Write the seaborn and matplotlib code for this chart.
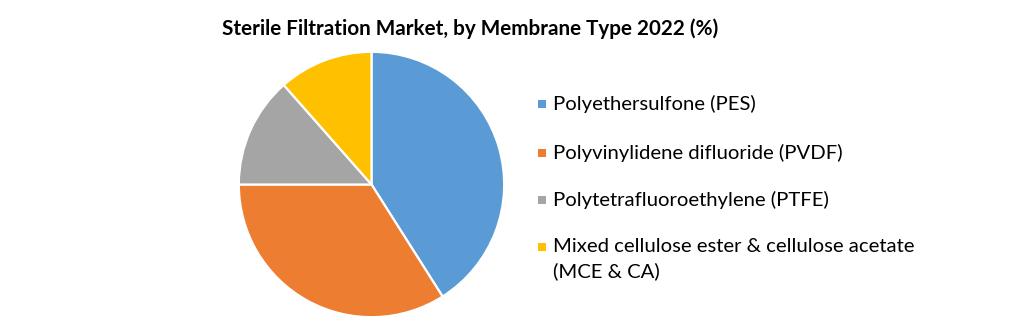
import matplotlib
matplotlib.use("Agg")
import matplotlib.pyplot as plt
import seaborn as sns
from matplotlib.patches import Rectangle

categories = ["Polyethersulfone (PES)", "Polyvinylidene difluoride (PVDF)",
              "Polytetrafluoroethylene (PTFE)",
              "Mixed cellulose ester & cellulose acetate\n(MCE & CA)"]
shares = [41.0, 34.0, 13.5, 11.5]
colors = ["#5B9BD5", "#ED7D31", "#A5A5A5", "#FFC000"]
title = "Sterile Filtration Market, by Membrane Type 2022 (%)"

sns.set_theme(style="white")
plt.rcParams["font.family"] = ["Lato", "DejaVu Sans"]

W, H = 1021, 321
fig = plt.figure(figsize=(W / 100, H / 100), dpi=100)
fig.patch.set_facecolor("white")

cx, cy, r = 371.5, 184.5, 134
ax = fig.add_axes([(cx - r) / W, (H - cy - r) / H, 2 * r / W, 2 * r / H])
ax.pie(shares, colors=colors, startangle=90, counterclock=False, radius=1,
       wedgeprops=dict(edgecolor="white", linewidth=1.6))
ax.set_xlim(-1.01, 1.01)
ax.set_ylim(-1.01, 1.01)
ax.set_aspect("equal")
ax.axis("off")

fig.text(470 / W, 1 - 29 / H, title, ha="center", va="center",
         fontsize=14.9, fontweight="bold", color="black")

rows_y = [104, 153, 200, 247]
line_gap = 24
for label, color, y in zip(categories, colors, rows_y):
    s = 7.5
    fig.patches.append(Rectangle((538 / W, 1 - (y + s / 2) / H), s / W, s / H,
                                 transform=fig.transFigure, facecolor=color,
                                 edgecolor="none"))
    for k, line in enumerate(label.split("\n")):
        fig.text(553 / W, 1 - (y + k * line_gap) / H, line, ha="left",
                 va="center", fontsize=14.6, color="black")

fig.savefig("out.png", dpi=100, facecolor="white")
